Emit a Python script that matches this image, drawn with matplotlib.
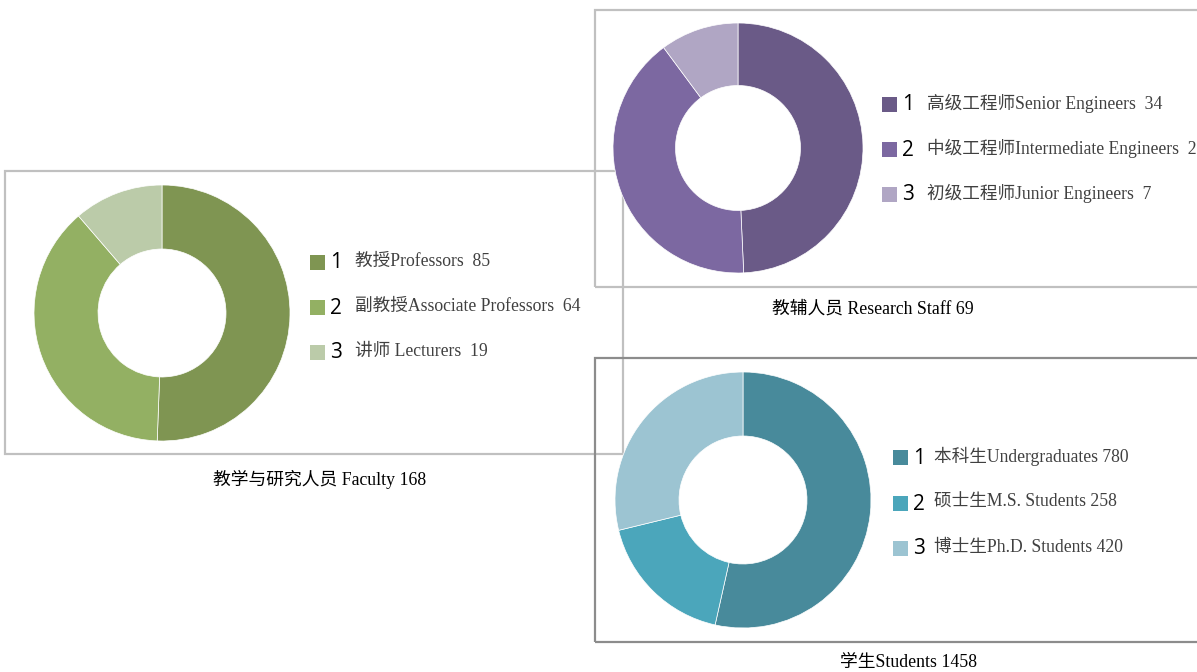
import matplotlib.pyplot as plt
from matplotlib.patches import Rectangle

plt.rcParams['font.family'] = ['Liberation Serif', 'Noto Sans CJK SC', 'DejaVu Sans']

# data
faculty_labels = ["教授Professors  85", "副教授Associate Professors  64", "讲师 Lecturers  19"]
faculty_values = [85, 64, 19]
faculty_title = "教学与研究人员 Faculty 168"

staff_labels = ["高级工程师Senior Engineers  34", "中级工程师Intermediate Engineers  28",
                "初级工程师Junior Engineers  7"]
staff_values = [34, 28, 7]
staff_title = "教辅人员 Research Staff 69"

student_labels = ["本科生Undergraduates 780", "硕士生M.S. Students 258", "博士生Ph.D. Students 420"]
student_values = [780, 258, 420]
student_title = "学生Students 1458"

faculty_colors = ["#7F9552", "#93B063", "#BBCBA9"]
staff_colors = ["#6A5A87", "#7C68A1", "#B0A6C4"]
student_colors = ["#488A9B", "#4BA6BB", "#9CC4D2"]

W, H = 1197, 672

fig = plt.figure(figsize=(W / 100, H / 100), dpi=100)
ax = fig.add_axes([0, 0, 1, 1])
ax.set_xlim(0, W)
ax.set_ylim(0, H)
ax.axis("off")


def py(y):
    # pixel row from top -> data y
    return H - y


# frames
ax.add_patch(Rectangle((5, py(454)), 618, 283, fill=False, ec="#C0C0C0", lw=1.6, zorder=1))
ax.add_patch(Rectangle((595, py(287)), 640, 277, fill=False, ec="#C0C0C0", lw=1.6, zorder=1))
ax.add_patch(Rectangle((595, py(642)), 640, 284, fill=False, ec="#8C8C8C", lw=1.6, zorder=1))


def donut(values, colors, cx, cy, r):
    wedges, _ = ax.pie(values, colors=colors, center=(cx, py(cy)), radius=r,
                       startangle=90, counterclock=False, frame=True,
                       wedgeprops=dict(width=r * 0.5, edgecolor="white", linewidth=0.5))
    for w in wedges:
        w.set_zorder(3)


donut(faculty_values, faculty_colors, 162, 313, 128)
donut(staff_values, staff_colors, 738, 148, 125)
donut(student_values, student_colors, 743, 500, 128)


def legend(labels, colors, sx, nx, tx, rows):
    for i, (lab, col, y) in enumerate(zip(labels, colors, rows)):
        ax.add_patch(Rectangle((sx, py(y) - 7.5), 15, 15, fc=col, ec="none", zorder=4))
        ax.text(nx, py(y) - 1, str(i + 1), fontsize=15, family=['Open Sans'],
                color="black", ha="left", va="center", zorder=4)
        ax.text(tx, py(y) + 0.5, lab, fontsize=12.7, color="#404040",
                ha="left", va="center", zorder=4)


legend(faculty_labels, faculty_colors, 310, 330, 355, [262, 307, 352])
legend(staff_labels, staff_colors, 882, 902, 927, [104, 149, 194])
legend(student_labels, student_colors, 893, 913, 934, [457, 503, 548])

ax.text(320, py(479), faculty_title, fontsize=12.8, color="black", ha="center", va="center")
ax.text(873, py(309), staff_title, fontsize=12.8, color="black", ha="center", va="center")
ax.text(908, py(663), student_title, fontsize=12.8, color="black", ha="center", va="center")

ax.set_xlim(0, W)
ax.set_ylim(0, H)
ax.set_aspect("auto")

fig.savefig("out.png", dpi=100, facecolor="white")
